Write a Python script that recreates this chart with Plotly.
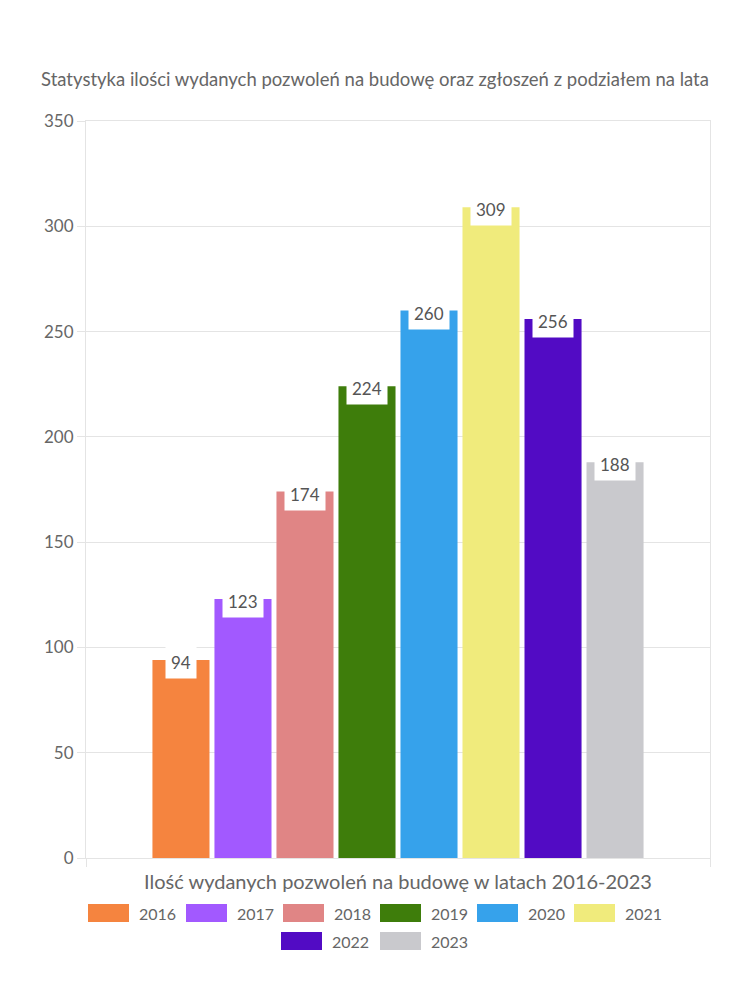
import plotly.graph_objects as go

years = ["2016", "2017", "2018", "2019", "2020", "2021", "2022", "2023"]
values = [94, 123, 174, 224, 260, 309, 256, 188]
colors = ["#F5843F", "#A259FF", "#E08585", "#3E7D0B", "#36A2EB", "#F0EB7C", "#520BC4", "#C9C9CD"]
category = "Ilość wydanych pozwoleń na budowę w latach 2016-2023"
title = "Statystyka ilości wydanych pozwoleń na budowę oraz zgłoszeń z podziałem na lata"

FONT = "Lato"
TXT = "#666666"
GRID = "#e4e4e4"

W, H = 750, 1000
ML, MR, MT, MB = 86, 40, 121, 142
PW = W - ML - MR
PH = H - MT - MB
BARGAP = 0.205
BGG = 0.08

fig = go.Figure()
for y, v, c in zip(years, values, colors):
    fig.add_trace(go.Bar(x=[category], y=[v], name=y, marker=dict(color=c, line=dict(width=0)),
                         showlegend=False, hoverinfo="y+name"))

# data labels
n = len(years)
slot = (1 - BARGAP) / n
for i, v in enumerate(values):
    xc = -(1 - BARGAP) / 2 + (i + 0.5) * slot
    fig.add_annotation(x=xc, y=v, xref="x", yref="y", text=str(v), showarrow=False,
                       yanchor="top", yshift=14, bgcolor="white", borderpad=5,
                       font=dict(family=FONT, size=17, color="#555555"))

# manual legend
def px_x(p):
    return (p - ML) / PW

def px_y(p):
    return (H - MB - p) / PH

row1 = [88, 186, 283, 380, 477, 574]
row2 = [281, 380]
positions = [(x, 904) for x in row1] + [(x, 932) for x in row2]
for (lx, ly), y, c in zip(positions, years, colors):
    fig.add_shape(type="rect", xref="paper", yref="paper",
                  x0=px_x(lx), x1=px_x(lx + 41), y0=px_y(ly + 18), y1=px_y(ly),
                  fillcolor=c, line=dict(width=0))
    fig.add_annotation(xref="paper", yref="paper", x=px_x(lx + 49), y=px_y(ly + 9),
                       text=y, showarrow=False, xanchor="left", yanchor="middle",
                       font=dict(family=FONT, size=16, color=TXT))

fig.update_layout(
    width=W, height=H,
    margin=dict(l=ML, r=MR, t=MT, b=MB),
    paper_bgcolor="white", plot_bgcolor="white",
    barmode="group", bargap=BARGAP, bargroupgap=BGG,
    font=dict(family=FONT, color=TXT),
    title=dict(text=title, x=0.5, xanchor="center", y=1 - 80 / H, yanchor="middle",
               font=dict(family=FONT, size=18.5, color=TXT)),
    xaxis=dict(type="category", showgrid=False, showline=True, mirror=True, linecolor=GRID,
               ticks="outside", tickson="boundaries", ticklen=8, tickcolor=GRID,
               ticklabelstandoff=6,
               tickfont=dict(family=FONT, size=20, color=TXT)),
    yaxis=dict(range=[0, 350], dtick=50, showgrid=True, gridcolor=GRID, zeroline=False,
               showline=True, mirror=True, linecolor=GRID,
               ticks="outside", ticklen=8, tickcolor=GRID,
               tickfont=dict(family=FONT, size=17, color=TXT)),
)

fig.write_html("out.html")
